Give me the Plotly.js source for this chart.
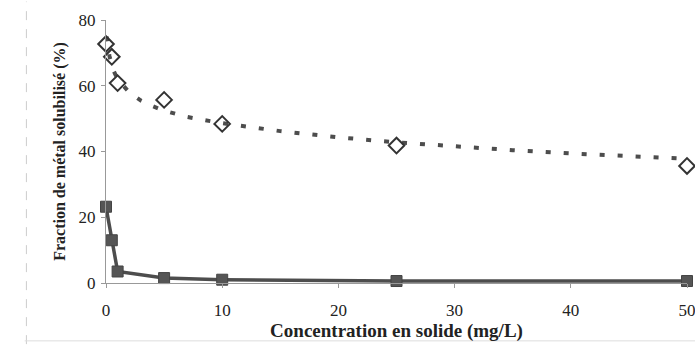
<!DOCTYPE html>
<html><head><meta charset="utf-8">
<script src="https://cdn.plot.ly/plotly-3.0.1.min.js"></script>
<style>html,body{margin:0;padding:0;background:#fff}</style>
</head><body><div id="chart" style="width:695px;height:352px"></div>
<script>
// Concentration en solide (mg/L)
const xPoints = [0, 0.5, 1, 5, 10, 25, 50];
// Fraction solubilisée (%) - diamonds
const diamondVals = [72.7, 68.8, 60.8, 55.7, 48.4, 41.8, 35.6];
// Fraction solubilisée (%) - squares
const squareVals = [23.2, 13.0, 3.5, 1.5, 1.0, 0.6, 0.6];
// fitted dashed curve
const fitX = [0.05, 0.3, 0.6, 1, 2, 3, 4, 5, 7, 10, 15, 20, 25, 30, 35, 40, 45, 50];
const fitY = [75, 69, 65, 62, 58, 55.5, 53.8, 52.4, 50.5, 48.6, 46.2, 44.3, 42.8, 41.5, 40.4, 39.4, 38.6, 37.8];
const xTicks = [0, 10, 20, 30, 40, 50];
const yTicks = [0, 20, 40, 60, 80];

const col = '#4d4d4d';
const traces = [
  {x: fitX, y: fitY, mode: 'lines', line: {color: col, width: 4, dash: '5px,13px'}, hoverinfo: 'skip', cliponaxis: false},
  {x: xPoints, y: diamondVals, mode: 'markers', cliponaxis: false,
   marker: {symbol: 'diamond-open', size: 12, color: '#333', line: {width: 2, color: '#333'}}},
  {x: xPoints, y: squareVals, mode: 'lines+markers', cliponaxis: false,
   line: {color: col, width: 3.5},
   marker: {symbol: 'square', size: 11, color: '#555', line: {width: 1, color: '#444'}}}
];
const fam = 'Liberation Serif, Times New Roman, serif';
const layout = {
  width: 695, height: 352,
  margin: {l: 106, r: 8, t: 20, b: 69},
  showlegend: false,
  paper_bgcolor: '#fff', plot_bgcolor: '#fff',
  font: {family: fam, size: 16, color: '#222'},
  xaxis: {range: [0, 50], tickmode: 'array', tickvals: xTicks, ticktext: xTicks.map(String),
    showgrid: false, zeroline: false, showline: true, linecolor: '#999', linewidth: 1,
    ticks: 'outside', ticklen: 4, tickcolor: '#999', ticklabelstandoff: 8, ticklabeloverflow: 'allow',
    tickfont: {family: fam, size: 17, color: '#222'},
    title: {text: '<b>Concentration en solide (mg/L)</b>', font: {family: fam, size: 19, color: '#222'}, standoff: 2}},
  yaxis: {range: [0, 80], tickmode: 'array', tickvals: yTicks, ticktext: yTicks.map(String),
    showgrid: false, zeroline: false, showline: true, linecolor: '#999', linewidth: 1,
    ticks: 'outside', ticklen: 4, tickcolor: '#999', ticklabelstandoff: 2, ticklabeloverflow: 'allow',
    tickfont: {family: fam, size: 17, color: '#222'},
    title: {text: '<b>Fraction de métal solubilisé (%)</b>', font: {family: fam, size: 16, color: '#222'}, standoff: 8}},
  shapes: [
    {type: 'line', xref: 'paper', yref: 'paper', x0: -0.137, x1: -0.137, y0: -0.78, y1: 1.07,
     line: {color: '#ccc', width: 1, dash: 'dash'}},
    {type: 'line', xref: 'paper', yref: 'paper', x0: -0.14, x1: 1.02, y0: -0.22, y1: -0.22,
     line: {color: '#ddd', width: 1}}
  ]
};
Plotly.newPlot('chart', traces, layout, {displayModeBar: false, staticPlot: true});
</script></body></html>
